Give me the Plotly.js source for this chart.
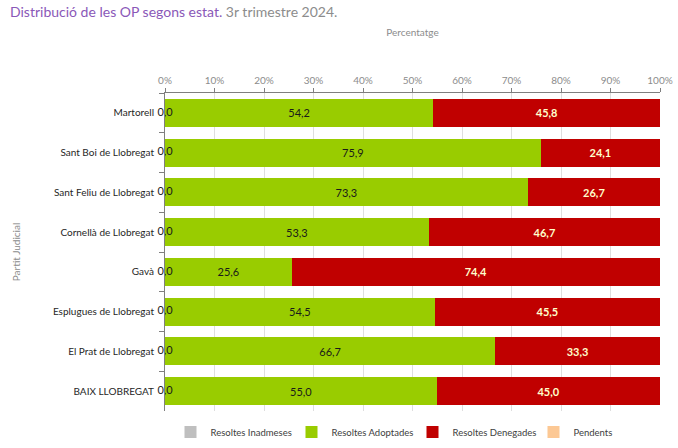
<!DOCTYPE html>
<html>
<head>
<meta charset="utf-8">
<script src="https://cdn.plot.ly/plotly-3.0.1.min.js"></script>
<style>html,body{margin:0;padding:0;background:#fff;}#chart{width:678px;height:448px;}</style>
</head>
<body>
<div id="chart"></div>
<script>
const categories = ["Martorell", "Sant Boi de Llobregat", "Sant Feliu de Llobregat", "Cornellà de Llobregat", "Gavà", "Esplugues de Llobregat", "El Prat de Llobregat", "BAIX LLOBREGAT"];
const inadmeses = [0, 0, 0, 0, 0, 0, 0, 0];
const adoptades = [54.2, 75.9, 73.3, 53.3, 25.6, 54.5, 66.7, 55.0];
const denegades = [45.8, 24.1, 26.7, 46.7, 74.4, 45.5, 33.3, 45.0];
const pendents = [0, 0, 0, 0, 0, 0, 0, 0];
const xTicks = [0, 10, 20, 30, 40, 50, 60, 70, 80, 90, 100];

const FONT = "Lato, 'Open Sans', sans-serif";

const traces = [
  {type: 'bar', orientation: 'h', name: 'Resoltes Inadmeses', y: categories, x: inadmeses,
   marker: {color: '#bfbfbf'}, hoverinfo: 'skip'},
  {type: 'bar', orientation: 'h', name: 'Resoltes Adoptades', y: categories, x: adoptades,
   marker: {color: '#99cc00'}, texttemplate: '%{x:.1f}', textposition: 'inside', insidetextanchor: 'middle',
   textfont: {color: '#1a1a1a', size: 11, family: FONT}, hoverinfo: 'skip'},
  {type: 'bar', orientation: 'h', name: 'Resoltes Denegades', y: categories, x: denegades,
   marker: {color: '#c00000'}, texttemplate: '<b>%{x:.1f}</b>', textposition: 'inside', insidetextanchor: 'middle',
   textfont: {color: '#ffffcc', size: 11, family: FONT}, hoverinfo: 'skip'},
  {type: 'bar', orientation: 'h', name: 'Pendents', y: categories, x: pendents,
   marker: {color: '#fcc894'}, hoverinfo: 'skip'},
  {type: 'scatter', mode: 'text', y: categories, x: inadmeses, text: inadmeses.map(v => v.toFixed(1).replace('.', ',')),
   textposition: 'middle center', textfont: {color: '#1a1a1a', size: 11, family: FONT},
   showlegend: false, hoverinfo: 'skip', cliponaxis: false}
];

const layout = {
  width: 678, height: 448,
  separators: ', ',
  barmode: 'stack',
  bargap: 0.3,
  paper_bgcolor: '#ffffff', plot_bgcolor: '#ffffff',
  font: {family: FONT, size: 11, color: '#404040'},
  margin: {l: 165, r: 18, t: 93, b: 37, autoexpand: false},
  title: {
    text: '<span style="color:#8a58b8">Distribució de les OP segons estat.</span> 3r trimestre 2024.',
    font: {family: FONT, size: 14, color: '#8c8c8c'},
    xref: 'container', yref: 'container', x: 10/678, xanchor: 'left', y: 1 - 12/448, yanchor: 'middle'
  },
  xaxis: {
    side: 'top', range: [0, 100], tickvals: xTicks, ticktext: xTicks.map(v => v + '%'),
    tickfont: {size: 10, color: '#8c8c8c', family: FONT},
    showgrid: true, gridcolor: '#dedede', gridwidth: 1,
    showline: true, linecolor: '#7f7f7f', linewidth: 1,
    ticks: 'outside', ticklen: 4, tickcolor: '#7f7f7f',
    zeroline: false, fixedrange: true, automargin: false,
    title: {text: 'Percentatge', font: {size: 10, color: '#8c8c8c', family: FONT}, standoff: 35}
  },
  yaxis: {
    type: 'category', autorange: 'reversed',
    tickfont: {size: 10, color: '#262626', family: FONT},
    showline: true, linecolor: '#7f7f7f', linewidth: 1, mirror: false,
    ticks: 'outside', ticklen: 5, tickcolor: '#7f7f7f', tickson: 'boundaries',
    ticklabelstandoff: 8,
    showgrid: false, zeroline: false, fixedrange: true, automargin: false,
    title: {text: 'Partit Judicial', font: {size: 10, color: '#8c8c8c', family: FONT}, standoff: 30}
  },
  legend: {
    orientation: 'h', x: 0.5, xanchor: 'center', y: -0.066, yanchor: 'middle',
    font: {size: 9.5, color: '#404040', family: FONT}, traceorder: 'normal',
    itemwidth: 30, entrywidth: 76, entrywidthmode: 'pixels'
  },
  showlegend: true
};

Plotly.newPlot('chart', traces, layout, {displayModeBar: false, staticPlot: true});
</script>
</body>
</html>
